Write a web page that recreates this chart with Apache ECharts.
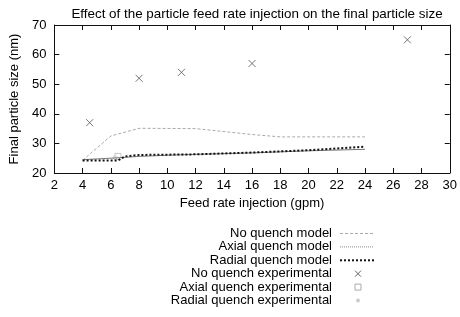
<!DOCTYPE html>
<html>
<head>
<meta charset="utf-8">
<script src="https://cdn.jsdelivr.net/npm/echarts@6/dist/echarts.min.js"></script>
<style>
  html, body { margin: 0; padding: 0; background: #fff; }
  #chart { width: 460px; height: 317px; }
</style>
</head>
<body>
<div id="chart"></div>
<script>
var FONT = "Liberation Sans, Arial, sans-serif";

// model curves (x in gpm, y in nm)
var noQuenchModelX = [4, 6, 8, 12, 16, 18, 24];
var noQuenchModelY = [24.3, 32.5, 35.1, 35, 33, 32.2, 32.2];
var axialModelX = [4, 6, 8, 10, 12, 16, 20, 24];
var axialModelY = [24.5, 25, 25.6, 26, 26.3, 26.8, 27.5, 28];
var radialModelX = [4, 6.5, 7, 8, 10, 12, 14, 16, 18, 20, 22, 24];
var radialModelY = [24.2, 24.2, 25.6, 26.1, 26.2, 26.3, 26.6, 26.9, 27.3, 27.7, 28.3, 28.9];

// experimental points
var noQuenchExpX = [4.5, 8, 11, 16, 27];
var noQuenchExpY = [37, 52, 54, 57, 65];
var axialExpX = [6.5];
var axialExpY = [25.6];
var radialExpX = [6.3];
var radialExpY = [25.2];

var legendNames = [
  "No quench model",
  "Axial quench model",
  "Radial quench model",
  "No quench experimental",
  "Axial quench experimental",
  "Radial quench experimental"
];

function pairs(xs, ys) {
  return xs.map(function(x, i) { return [x, ys[i]]; });
}

function lineSeries(name, xs, ys, color, width, dash) {
  return {
    name: name,
    type: "line",
    data: pairs(xs, ys),
    showSymbol: false,
    silent: true,
    lineStyle: { color: color, width: width, type: dash }
  };
}

function pointSeries(name, xs, ys, symbol, size, color) {
  return {
    name: name,
    type: "scatter",
    data: pairs(xs, ys),
    symbol: symbol,
    symbolSize: size,
    silent: true,
    itemStyle: { color: "none", borderColor: color, borderWidth: 1 }
  };
}

var crossPath = "path://M0,0L10,10M10,0L0,10";

// hand-built legend, text right aligned next to the sample
function buildLegend() {
  var items = [];
  var textRight = 332;
  var top = 233.5;
  var step = 13.4;
  var samples = [
    { kind: "line", color: "#aaa", width: 1, dash: [3, 2] },
    { kind: "line", color: "#888", width: 1, dash: [1, 1] },
    { kind: "line", color: "#111", width: 2, dash: [2, 2] },
    { kind: "cross", color: "#666" },
    { kind: "square", color: "#aaa" },
    { kind: "dot", color: "#ccc" }
  ];
  legendNames.forEach(function(name, i) {
    var y = top + i * step;
    items.push({
      type: "text", x: textRight, y: y,
      style: { text: name, font: "13px " + FONT, fill: "#000", align: "right", verticalAlign: "middle" }
    });
    var s = samples[i];
    if (s.kind === "line") {
      items.push({
        type: "line",
        shape: { x1: 340, y1: y, x2: 374, y2: y },
        style: { stroke: s.color, lineWidth: s.width, lineDash: s.dash }
      });
    } else if (s.kind === "cross") {
      items.push({
        type: "polyline", shape: { points: [[355, y - 3], [361, y + 3]] },
        style: { stroke: s.color, lineWidth: 1 }
      });
      items.push({
        type: "polyline", shape: { points: [[361, y - 3], [355, y + 3]] },
        style: { stroke: s.color, lineWidth: 1 }
      });
    } else if (s.kind === "square") {
      items.push({
        type: "rect", shape: { x: 355, y: y - 3, width: 6, height: 6 },
        style: { fill: "none", stroke: s.color, lineWidth: 1 }
      });
    } else {
      items.push({
        type: "circle", shape: { cx: 358, cy: y, r: 2 },
        style: { fill: s.color }
      });
    }
  });
  return items;
}

var axisLine = { show: true, lineStyle: { color: "#111", width: 1 } };
var axisTick = { show: true, inside: true, length: 5, lineStyle: { color: "#111" } };
var labelStyle = { fontFamily: FONT, fontSize: 13, color: "#000" };

var chart = echarts.init(document.getElementById("chart"), null, { renderer: "canvas" });
chart.setOption({
  animation: false,
  backgroundColor: "#fff",
  title: {
    text: "Effect of the particle feed rate injection on the final particle size",
    left: 252,
    textAlign: "center",
    top: 3,
    textStyle: { fontFamily: FONT, fontSize: 13.4, fontWeight: "normal", color: "#000" }
  },
  grid: { left: 53, right: 9, top: 25, bottom: 144 },
  xAxis: [{
    type: "value", min: 2, max: 30, interval: 2,
    name: "Feed rate injection (gpm)", nameLocation: "middle", nameGap: 24,
    nameTextStyle: labelStyle,
    axisLine: axisLine, axisTick: axisTick,
    axisLabel: Object.assign({ margin: 6 }, labelStyle),
    splitLine: { show: false }
  }, {
    type: "value", position: "top", min: 2, max: 30, interval: 2,
    axisLine: axisLine, axisTick: axisTick, axisLabel: { show: false }, splitLine: { show: false }
  }],
  yAxis: [{
    type: "value", min: 20, max: 70, interval: 10,
    name: "Final particle size (nm)", nameLocation: "middle", nameGap: 33,
    nameTextStyle: labelStyle,
    axisLine: axisLine, axisTick: axisTick,
    axisLabel: Object.assign({ margin: 8 }, labelStyle),
    splitLine: { show: false }
  }, {
    type: "value", position: "right", min: 20, max: 70, interval: 10,
    axisLine: axisLine, axisTick: axisTick, axisLabel: { show: false }, splitLine: { show: false }
  }],
  series: [
    lineSeries(legendNames[0], noQuenchModelX, noQuenchModelY, "#aaa", 1, [3, 2]),
    lineSeries(legendNames[1], axialModelX, axialModelY, "#777", 1, "solid"),
    lineSeries(legendNames[2], radialModelX, radialModelY, "#111", 2, [2, 2]),
    pointSeries(legendNames[3], noQuenchExpX, noQuenchExpY, crossPath, 7, "#555"),
    pointSeries(legendNames[4], axialExpX, axialExpY, "rect", 6, "#bbb"),
    pointSeries(legendNames[5], radialExpX, radialExpY, "circle", 4, "#ccc")
  ],
  graphic: buildLegend()
});
</script>
</body>
</html>
